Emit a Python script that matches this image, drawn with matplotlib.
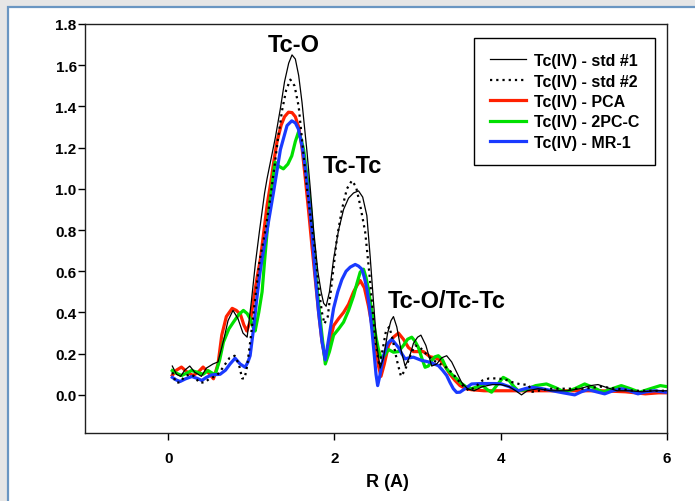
import matplotlib
matplotlib.use("Agg")
import matplotlib.pyplot as plt
from matplotlib.patches import Rectangle

plt.rcParams['font.family'] = ['Liberation Sans', 'DejaVu Sans']
plt.rcParams['font.weight'] = 'bold'

# Fourier-transform magnitude vs. radial distance R (A)
r_std1 = [0.05, 0.10, 0.15, 0.20, 0.26, 0.32, 0.40, 0.46, 0.54, 0.60, 0.67, 0.72, 0.78, 0.84,
          0.90, 0.95, 1.00, 1.05, 1.10, 1.16, 1.19, 1.22, 1.29, 1.35, 1.40, 1.45, 1.49, 1.53,
          1.57, 1.61, 1.67, 1.71, 1.75, 1.80, 1.84, 1.87, 1.90, 1.94, 1.99, 2.05, 2.11, 2.17,
          2.23, 2.29, 2.34, 2.39, 2.43, 2.47, 2.51, 2.55, 2.59, 2.64, 2.68, 2.71, 2.75, 2.80,
          2.85, 2.90, 2.95, 3.00, 3.04, 3.10, 3.17, 3.23, 3.29, 3.35, 3.41, 3.47, 3.53, 3.60,
          3.68, 3.78, 3.90, 4.00, 4.10, 4.18, 4.25, 4.32, 4.45, 4.60, 4.80, 4.95, 5.08, 5.17,
          5.28, 5.40, 5.55, 5.70, 5.85, 6.00]
v_std1 = [0.14, 0.10, 0.09, 0.12, 0.14, 0.11, 0.09, 0.13, 0.15, 0.16, 0.27, 0.36, 0.41, 0.37,
          0.30, 0.28, 0.45, 0.64, 0.80, 0.98, 1.05, 1.11, 1.25, 1.39, 1.52, 1.61, 1.65, 1.63,
          1.55, 1.42, 1.18, 1.00, 0.80, 0.60, 0.50, 0.445, 0.43, 0.50, 0.66, 0.80, 0.90, 0.955,
          0.98, 0.99, 0.96, 0.87, 0.67, 0.45, 0.24, 0.13, 0.18, 0.30, 0.36, 0.38, 0.33, 0.22,
          0.14, 0.18, 0.25, 0.28, 0.29, 0.24, 0.14, 0.15, 0.18, 0.19, 0.16, 0.11, 0.06, 0.03,
          0.02, 0.04, 0.05, 0.05, 0.04, 0.02, 0.00, 0.02, 0.03, 0.02, 0.02, 0.03, 0.045, 0.05,
          0.035, 0.02, 0.02, 0.015, 0.02, 0.02]

r_std2 = [0.05, 0.09, 0.14, 0.20, 0.26, 0.32, 0.37, 0.44, 0.50, 0.57, 0.62, 0.67, 0.74, 0.80,
          0.85, 0.89, 0.92, 0.95, 1.00, 1.05, 1.10, 1.17, 1.22, 1.27, 1.32, 1.37, 1.42, 1.47,
          1.52, 1.57, 1.62, 1.67, 1.72, 1.77, 1.81, 1.85, 1.88, 1.92, 1.97, 2.03, 2.09, 2.15,
          2.21, 2.26, 2.31, 2.37, 2.43, 2.49, 2.54, 2.58, 2.62, 2.66, 2.70, 2.75, 2.80, 2.85,
          2.91, 2.97, 3.03, 3.10, 3.18, 3.27, 3.36, 3.45, 3.53, 3.62, 3.70, 3.78, 3.86, 3.96,
          4.05, 4.15, 4.25, 4.33, 4.38, 4.45, 4.60, 4.80, 5.00, 5.20, 5.40, 5.60, 5.80, 6.00]
v_std2 = [0.11, 0.06, 0.06, 0.09, 0.10, 0.09, 0.06, 0.06, 0.08, 0.09, 0.11, 0.14, 0.18, 0.19,
          0.15, 0.08, 0.08, 0.14, 0.30, 0.48, 0.65, 0.80, 0.93, 1.08, 1.24, 1.38, 1.48, 1.53,
          1.50, 1.40, 1.20, 1.00, 0.84, 0.69, 0.52, 0.40, 0.345, 0.38, 0.55, 0.76, 0.90, 1.00,
          1.04, 1.01, 0.92, 0.79, 0.55, 0.27, 0.14, 0.22, 0.31, 0.33, 0.27, 0.17, 0.09, 0.12,
          0.19, 0.24, 0.23, 0.20, 0.17, 0.15, 0.13, 0.09, 0.05, 0.02, 0.04, 0.07, 0.08, 0.08,
          0.075, 0.06, 0.05, 0.05, 0.015, 0.02, 0.03, 0.03, 0.03, 0.04, 0.03, 0.02, 0.02, 0.02]

r_pca = [0.05, 0.10, 0.16, 0.23, 0.30, 0.36, 0.42, 0.48, 0.545, 0.60, 0.645, 0.70, 0.77, 0.82,
         0.87, 0.91, 0.946, 0.99, 1.03, 1.07, 1.11, 1.15, 1.19, 1.23, 1.27, 1.31, 1.36, 1.40,
         1.447, 1.49, 1.53, 1.57, 1.61, 1.65, 1.69, 1.73, 1.77, 1.81, 1.85, 1.89, 1.94, 1.99,
         2.05, 2.11, 2.17, 2.23, 2.27, 2.31, 2.36, 2.41, 2.45, 2.49, 2.53, 2.56, 2.60, 2.65,
         2.71, 2.77, 2.83, 2.89, 2.95, 3.01, 3.07, 3.15, 3.21, 3.27, 3.33, 3.39, 3.45, 3.51,
         3.58, 3.65, 3.80, 4.00, 4.30, 4.60, 4.90, 5.20, 5.50, 5.74, 5.90, 6.00]
v_pca = [0.095, 0.12, 0.135, 0.11, 0.094, 0.11, 0.135, 0.11, 0.078, 0.15, 0.29, 0.38, 0.42, 0.41,
         0.39, 0.34, 0.31, 0.36, 0.47, 0.57, 0.66, 0.79, 0.92, 1.02, 1.13, 1.23, 1.31, 1.35,
         1.372, 1.37, 1.35, 1.30, 1.20, 1.05, 0.89, 0.72, 0.56, 0.40, 0.26, 0.17, 0.25, 0.336,
         0.37, 0.40, 0.44, 0.50, 0.53, 0.555, 0.52, 0.43, 0.34, 0.255, 0.14, 0.09, 0.15, 0.24,
         0.28, 0.30, 0.27, 0.23, 0.21, 0.21, 0.21, 0.185, 0.18, 0.17, 0.14, 0.10, 0.07, 0.045,
         0.03, 0.025, 0.02, 0.02, 0.02, 0.02, 0.02, 0.02, 0.015, 0.005, 0.01, 0.01]

r_2pc = [0.05, 0.10, 0.16, 0.22, 0.28, 0.35, 0.42, 0.48, 0.565, 0.62, 0.665, 0.73, 0.785, 0.85,
         0.905, 0.95, 0.986, 1.02, 1.046, 1.09, 1.13, 1.16, 1.19, 1.22, 1.25, 1.286, 1.33, 1.386,
         1.44, 1.487, 1.53, 1.567, 1.60, 1.63, 1.67, 1.71, 1.74, 1.77, 1.81, 1.85, 1.89, 1.94,
         1.99, 2.05, 2.11, 2.17, 2.23, 2.27, 2.31, 2.35, 2.38, 2.41, 2.44, 2.47, 2.50, 2.53,
         2.56, 2.60, 2.65, 2.71, 2.77, 2.83, 2.88, 2.93, 2.97, 3.01, 3.05, 3.09, 3.13, 3.17,
         3.21, 3.25, 3.30, 3.35, 3.41, 3.47, 3.53, 3.59, 3.65, 3.72, 3.78, 3.84, 3.89, 3.96,
         4.03, 4.10, 4.16, 4.21, 4.30, 4.42, 4.55, 4.66, 4.77, 4.89, 5.01, 5.12, 5.23, 5.34,
         5.45, 5.56, 5.67, 5.80, 5.92, 6.00]
v_2pc = [0.118, 0.105, 0.094, 0.105, 0.118, 0.11, 0.10, 0.118, 0.097, 0.17, 0.256, 0.32, 0.353, 0.39,
         0.41, 0.395, 0.37, 0.33, 0.31, 0.40, 0.50, 0.65, 0.79, 0.92, 1.016, 1.13, 1.11, 1.097,
         1.12, 1.16, 1.23, 1.275, 1.24, 1.19, 1.06, 0.92, 0.78, 0.61, 0.44, 0.29, 0.15, 0.21,
         0.29, 0.32, 0.353, 0.41, 0.48, 0.54, 0.596, 0.61, 0.57, 0.51, 0.43, 0.353, 0.28, 0.22,
         0.18, 0.19, 0.22, 0.207, 0.21, 0.24, 0.27, 0.28, 0.26, 0.23, 0.18, 0.134, 0.14, 0.167,
         0.185, 0.19, 0.17, 0.126, 0.10, 0.078, 0.055, 0.037, 0.03, 0.04, 0.045, 0.025, 0.013, 0.05,
         0.085, 0.07, 0.04, 0.02, 0.025, 0.045, 0.053, 0.035, 0.013, 0.03, 0.053, 0.035, 0.013, 0.03,
         0.045, 0.03, 0.013, 0.03, 0.045, 0.04]

r_mr1 = [0.05, 0.10, 0.144, 0.21, 0.285, 0.35, 0.405, 0.46, 0.525, 0.625, 0.69, 0.745, 0.805, 0.866,
         0.926, 0.96, 0.986, 1.03, 1.066, 1.10, 1.13, 1.19, 1.266, 1.35, 1.43, 1.487, 1.53, 1.567,
         1.61, 1.647, 1.69, 1.73, 1.77, 1.81, 1.85, 1.89, 1.93, 1.99, 2.04, 2.09, 2.14, 2.19,
         2.25, 2.29, 2.33, 2.36, 2.39, 2.42, 2.45, 2.48, 2.50, 2.52, 2.55, 2.59, 2.64, 2.69,
         2.73, 2.77, 2.81, 2.85, 2.90, 2.95, 3.00, 3.05, 3.10, 3.15, 3.20, 3.25, 3.30, 3.35,
         3.39, 3.43, 3.47, 3.51, 3.57, 3.65, 3.75, 3.85, 3.93, 4.01, 4.10, 4.21, 4.29, 4.37,
         4.50, 4.62, 4.75, 4.89, 4.97, 5.05, 5.15, 5.25, 5.35, 5.45, 5.55, 5.65, 5.75, 5.85, 5.98]
v_mr1 = [0.085, 0.072, 0.065, 0.078, 0.089, 0.08, 0.07, 0.085, 0.097, 0.10, 0.12, 0.15, 0.178, 0.15,
         0.134, 0.16, 0.19, 0.33, 0.466, 0.58, 0.66, 0.80, 0.98, 1.19, 1.307, 1.33, 1.32, 1.29,
         1.21, 1.11, 0.96, 0.79, 0.58, 0.40, 0.26, 0.17, 0.27, 0.42, 0.50, 0.56, 0.60, 0.62,
         0.633, 0.625, 0.61, 0.57, 0.515, 0.43, 0.32, 0.19, 0.10, 0.045, 0.10, 0.19, 0.25, 0.27,
         0.25, 0.23, 0.20, 0.175, 0.18, 0.183, 0.175, 0.167, 0.163, 0.158, 0.15, 0.142, 0.12, 0.094,
         0.06, 0.03, 0.012, 0.013, 0.03, 0.053, 0.055, 0.055, 0.055, 0.053, 0.04, 0.02, 0.03, 0.037,
         0.03, 0.02, 0.01, 0.0, 0.015, 0.026, 0.015, 0.005, 0.02, 0.03, 0.02, 0.005, 0.015, 0.02, 0.013]

labels = ['Tc(IV) - std #1', 'Tc(IV) - std #2', 'Tc(IV) - PCA', 'Tc(IV) - 2PC-C', 'Tc(IV) - MR-1']
peak_labels = ['Tc-O', 'Tc-Tc', 'Tc-O/Tc-Tc']
peak_pos = [(1.51, 1.70), (2.22, 1.115), (3.35, 0.46)]

W, H = 695, 502
fig = plt.figure(figsize=(W / 100, H / 100), dpi=100)
fig.patch.set_facecolor('#e6e6e6')
fig.add_artist(Rectangle((7.5 / W, -0.05), 1.0, 1.05 - 7.5 / H, transform=fig.transFigure,
                         facecolor='white', edgecolor='#6a96c2', linewidth=1.6, zorder=0))

ax = fig.add_axes([85 / W, 1 - 434 / H, (667 - 85) / W, (434 - 25) / H])
ax.set_facecolor('white')

ax.plot(r_std1, v_std1, color='black', lw=0.9, label=labels[0], zorder=5)
ax.plot(r_std2, v_std2, color='black', lw=1.6, linestyle=(0, (1, 1.8)), label=labels[1], zorder=5)
ax.plot(r_pca, v_pca, color='#ff2000', lw=2.3, label=labels[2], zorder=3)
ax.plot(r_2pc, v_2pc, color='#00e000', lw=2.3, label=labels[3], zorder=3)
ax.plot(r_mr1, v_mr1, color='#1a3aff', lw=2.3, label=labels[4], zorder=4)

for txt, (x, y) in zip(peak_labels, peak_pos):
    ax.text(x, y, txt, fontsize=17, fontweight='bold', ha='center', va='center', zorder=6)

ax.set_xlim(-1, 6)
ax.set_ylim(-0.185, 1.8)
ax.set_xticks([0, 2, 4, 6])
ax.set_yticks([0.0, 0.2, 0.4, 0.6, 0.8, 1.0, 1.2, 1.4, 1.6, 1.8])
ax.set_yticklabels([f'{v:.1f}' for v in ax.get_yticks()])
ax.tick_params(axis='both', direction='out', length=5, width=1, labelsize=11, colors='black')
ax.tick_params(axis='y', pad=1)
ax.tick_params(axis='x', pad=8)
for lab in ax.get_xticklabels() + ax.get_yticklabels():
    lab.set_fontweight('bold')
for s in ax.spines.values():
    s.set_linewidth(1.0)
    s.set_color('#202020')

ax.set_xlabel('R (A)', fontsize=13, fontweight='bold')
ax.xaxis.set_label_coords(0.52, -0.097)

leg = ax.legend(loc='upper right', bbox_to_anchor=(0.979, 0.966), borderaxespad=0,
                frameon=True, fancybox=False, edgecolor='black', framealpha=1,
                prop={'weight': 'bold', 'size': 11.5}, handlelength=2.3, handletextpad=0.5,
                labelspacing=0.34, borderpad=0.95)
leg.get_frame().set_linewidth(1.0)

fig.savefig('out.png', dpi=100, facecolor=fig.get_facecolor())
